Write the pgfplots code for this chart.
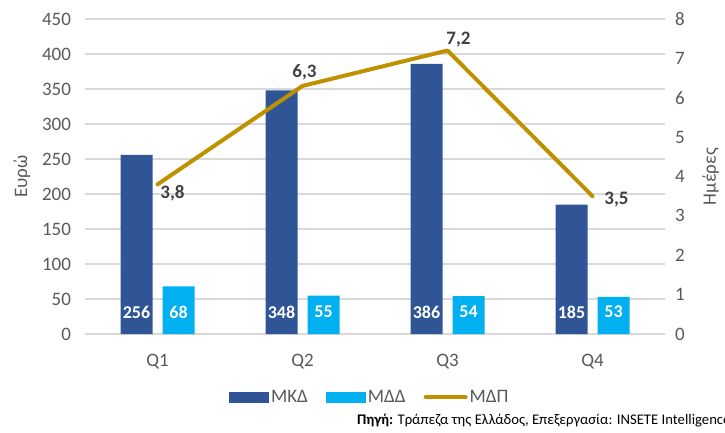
\documentclass[border=0pt]{standalone}
\usepackage{pgfplots}
\pgfplotsset{compat=1.18}
\usepackage{fontspec}
\setmainfont{Carlito}
\definecolor{mkd}{HTML}{2F5597}
\definecolor{mdd}{HTML}{00B0F0}
\definecolor{mdp}{HTML}{BF9000}
\definecolor{grd}{HTML}{D9D9D9}
\definecolor{tck}{HTML}{595959}
\definecolor{lbl}{HTML}{404040}
\begin{document}
\begin{tikzpicture}[x=1pt,y=1pt]
\useasboundingbox (0,0) rectangle (725,432);
\pgfplotsset{
  base/.style={
    scale only axis, width=580pt, height=315pt,
    at={(85pt,98pt)}, anchor=south west,
    xmin=-0.5, xmax=3.5,
    axis line style={draw=none},
    major tick length=0pt,
    tick label style={font=\fontsize{19}{19}\selectfont, text=tck},
    /pgf/number format/assume math mode=true,
  }
}
\begin{axis}[base,
  ymin=0, ymax=450, ytick={0,50,...,450},
  ymajorgrids, grid style={grd, line width=1.3pt},
  xtick={0,1,2,3}, xticklabels={Q1,Q2,Q3,Q4},
  xticklabel style={yshift=-16.5pt},
  yticklabel style={xshift=-10.5pt},
  ybar, bar width=32pt,
  ylabel={Ευρώ},
  every axis y label/.style={at={(axis description cs:-0.1086,0.5)}, rotate=90, anchor=center, font=\fontsize{19}{19}\selectfont, text=tck},
  visualization depends on=rawy \as \rawy,
  nodes near coords,
  nodes near coords style={font=\bfseries\fontsize{18}{18}\selectfont, text=white, anchor=center, shift={(axis direction cs:0,-\rawy)}, yshift=22pt},
  legend style={at={(0.491,-0.2)}, anchor=center, draw=none, fill=none,
    legend columns=3, font=\fontsize{19}{19}\selectfont, text=tck,
    /tikz/every even column/.append style={column sep=16pt},
    nodes={inner sep=2pt}},
]
\addplot[fill=mkd, draw=none, bar shift=-21pt,
  legend image code/.code={\fill[mkd] (0pt,-5.5pt) rectangle (40pt,5.5pt);}]
  coordinates {(0,256) (1,348) (2,386) (3,185)};
\addplot[fill=mdd, draw=none, bar shift=21pt,
  legend image code/.code={\fill[mdd] (0pt,-5.5pt) rectangle (40pt,5.5pt);}]
  coordinates {(0,68) (1,55) (2,54) (3,53)};
\addlegendimage{legend image code/.code={\draw[mdp, line width=4pt, line cap=round] (2pt,0pt) -- (42pt,0pt);}}
\legend{ΜΚΔ,ΜΔΔ,ΜΔΠ}
\end{axis}
\begin{axis}[base,
  ymin=0, ymax=8, ytick={0,1,...,8},
  axis y line*=right, xtick=\empty,
  yticklabel style={xshift=6.5pt},
  ylabel={Ημέρες},
  every axis y label/.style={at={(axis description cs:1.079,0.5)}, rotate=90, anchor=center, font=\fontsize{19}{19}\selectfont, text=tck},
]
\addplot[mdp, line width=4pt, line join=round, line cap=round, mark=none]
  coordinates {(0,3.8) (1,6.3) (2,7.2) (3,3.5)};
\begin{scope}[every node/.style={font=\bfseries\fontsize{19}{19}\selectfont, text=lbl, anchor=center}]
\node[xshift=15pt, yshift=-9pt] at (axis cs:0,3.8) {3,8};
\node[xshift=2pt, yshift=14pt] at (axis cs:1,6.3) {6,3};
\node[xshift=11pt, yshift=10.5pt] at (axis cs:2,7.2) {7,2};
\node[xshift=24pt, yshift=-3.5pt] at (axis cs:3,3.5) {3,5};
\end{scope}
\end{axis}
\node[anchor=west, font=\fontsize{14.7}{14.7}\selectfont, text=black, inner sep=0pt] at (357,11) {\textbf{Πηγή:} Τράπεζα της Ελλάδος, Επεξεργασία: INSETE Intelligence};
\end{tikzpicture}
\end{document}
